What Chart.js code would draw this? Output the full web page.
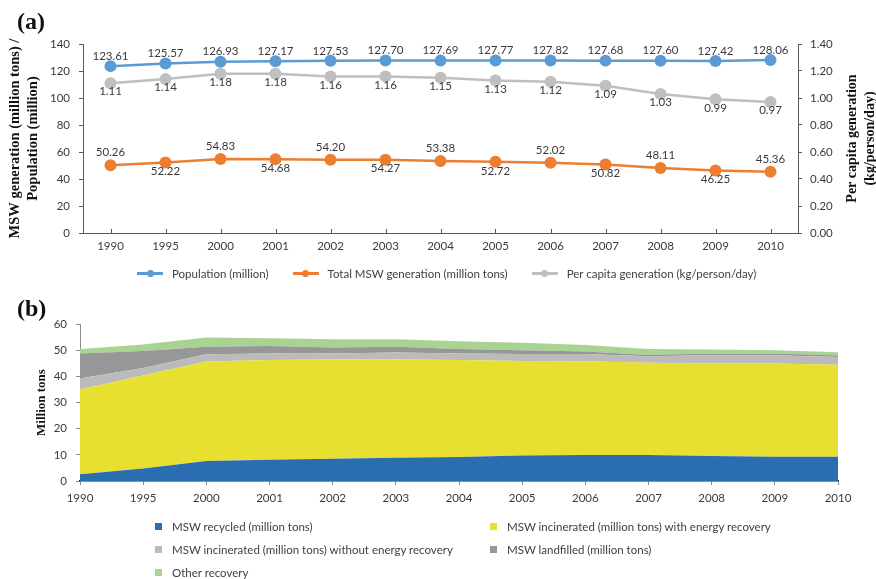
<!DOCTYPE html>
<html>
<head>
<meta charset="utf-8">
<title>Municipal solid waste, 1990–2010</title>
<script src="https://cdn.jsdelivr.net/npm/chart.js@4.4.1/dist/chart.umd.min.js"></script>
<style>
  html, body { margin: 0; padding: 0; background: #fff; }
  #wrap { position: relative; width: 876px; height: 579px; overflow: hidden;
          font-family: Lato, "Liberation Sans", sans-serif; color: #404040; }
  canvas { position: absolute; left: 0; }
  #chartA { top: 0; }
  #chartB { top: 290px; }
  .panel { position: absolute; left: 17px; font: bold 24px "Liberation Serif", "Times New Roman", serif; color: #111; line-height: 1; }
  #legendA { position: absolute; left: 137px; top: 266px; display: flex; gap: 24px; font-size: 11.5px; white-space: nowrap; }
  #legendA .item { display: flex; align-items: center; height: 14px; }
  #legendA .sw { position: relative; width: 26px; height: 14px; margin-right: 9px; }
  #legendA .sw .ln { position: absolute; left: 0; right: 0; top: 6px; height: 2.5px; }
  #legendA .sw .dot { position: absolute; left: 9.5px; top: 3.5px; width: 7px; height: 7px; border-radius: 50%; }
  #legendB { position: absolute; left: 155px; top: 519px; display: grid; grid-template-columns: 335px auto;
             row-gap: 9px; font-size: 11.5px; white-space: nowrap; }
  #legendB .item { display: flex; align-items: center; height: 14px; }
  #legendB .box { width: 7px; height: 7px; margin-right: 10px; }
</style>
</head>
<body>
<div id="wrap">
  <canvas id="chartA" width="876" height="290"></canvas>
  <canvas id="chartB" width="876" height="289"></canvas>
  <div class="panel" style="top:9px">(a)</div>
  <div class="panel" style="top:296px">(b)</div>
  <div id="legendA"></div>
  <div id="legendB"></div>
</div>
<script>
// ---- data -------------------------------------------------------------
const years = ['1990', '1995', '2000', '2001', '2002', '2003', '2004', '2005', '2006', '2007', '2008', '2009', '2010'];

const population = [123.61, 125.57, 126.93, 127.17, 127.53, 127.70, 127.69, 127.77, 127.82, 127.68, 127.60, 127.42, 128.06];
const mswTotal = [50.26, 52.22, 54.83, 54.68, 54.20, 54.27, 53.38, 52.72, 52.02, 50.82, 48.11, 46.25, 45.36];
const perCapita = [1.11, 1.14, 1.18, 1.18, 1.16, 1.16, 1.15, 1.13, 1.12, 1.09, 1.03, 0.99, 0.97];

const mswRecycled = [2.6, 4.8, 7.6, 8.1, 8.5, 8.9, 9.2, 9.7, 9.9, 9.9, 9.6, 9.3, 9.3];
const incineratedWithEnergy = [32.4, 35.5, 38.1, 38.1, 37.9, 37.5, 37.0, 36.2, 35.9, 35.3, 35.3, 35.6, 35.1];
const incineratedWithoutEnergy = [4.2, 2.9, 2.7, 2.5, 2.3, 2.7, 2.5, 2.6, 2.7, 2.5, 3.2, 3.2, 3.0];
const mswLandfilled = [9.5, 6.5, 2.9, 2.9, 2.3, 2.2, 1.7, 1.5, 1.0, 0.5, 0.6, 0.6, 0.6];
const otherRecovery = [1.7, 2.5, 3.5, 3.0, 3.2, 2.9, 3.0, 2.8, 2.5, 2.2, 1.6, 1.3, 1.2];

const leftTicksA = [0, 20, 40, 60, 80, 100, 120, 140];
const rightTicksA = [0, 0.2, 0.4, 0.6, 0.8, 1.0, 1.2, 1.4];
const ticksB = [0, 10, 20, 30, 40, 50, 60];

// ---- shared styling ---------------------------------------------------
Chart.defaults.font.family = 'Lato, "Liberation Sans", sans-serif';
Chart.defaults.color = '#3a3a3a';
const tickFont = { size: 11.5 };
const axisA = '#5a5a5a';
const titleFont = (size) => ({ family: '"Liberation Serif", "Times New Roman", serif', size, weight: 'bold' });

// value labels next to each point of the line chart
const pointValues = {
  id: 'pointValues',
  afterDatasetsDraw(chart) {
    const ctx = chart.ctx;
    ctx.save();
    ctx.font = '11.5px Lato, "Liberation Sans", sans-serif';
    ctx.fillStyle = '#3a3a3a';
    ctx.textAlign = 'center';
    ctx.textBaseline = 'middle';
    chart.data.datasets.forEach((ds, di) => {
      const meta = chart.getDatasetMeta(di);
      meta.data.forEach((pt, i) => {
        let side = ds.labelSide;
        if (side === 'alternate') side = i % 2 === 0 ? 'above' : 'below';
        const dy = side === 'above' ? -ds.labelGapAbove : ds.labelGapBelow;
        ctx.fillText(ds.data[i].toFixed(2), pt.x, pt.y + dy);
      });
    });
    ctx.restore();
  }
};

// short inward tick marks on the category axis of the line chart
const innerTicks = {
  id: 'innerTicks',
  afterDraw(chart) {
    const x = chart.scales.x, ctx = chart.ctx;
    ctx.save();
    ctx.strokeStyle = axisA;
    ctx.lineWidth = 1;
    ctx.beginPath();
    years.forEach((_, i) => {
      const px = Math.round(x.getPixelForValue(i)) + 0.5;
      ctx.moveTo(px, x.top);
      ctx.lineTo(px, x.top - 4);
    });
    ctx.stroke();
    ctx.restore();
  }
};

// right-hand axis title, read bottom-to-top
const rightTitle = {
  id: 'rightTitle',
  afterDraw(chart) {
    const ctx = chart.ctx, area = chart.chartArea;
    ctx.save();
    ctx.translate(852, (area.top + area.bottom) / 2);
    ctx.rotate(-Math.PI / 2);
    ctx.font = 'bold 14px "Liberation Serif", "Times New Roman", serif';
    ctx.fillStyle = '#111';
    ctx.textAlign = 'center';
    ctx.textBaseline = 'middle';
    ctx.fillText('Per capita generation', 0, 0);
    ctx.fillText('(kg/person/day)', 0, 18);
    ctx.restore();
  }
};

// ---- (a) population, total MSW and per-capita generation -------------
const lineStyle = (color) => ({
  borderColor: color, backgroundColor: color, borderWidth: 2.5,
  pointRadius: 6, pointHoverRadius: 6, pointBorderWidth: 0, tension: 0
});

const chartA = new Chart(document.getElementById('chartA'), {
  type: 'line',
  data: {
    labels: years,
    datasets: [
      { label: 'Population (million)', data: population, yAxisID: 'y',
        labelSide: 'above', labelGapAbove: 10, labelGapBelow: 9, ...lineStyle('#5b9bd5') },
      { label: 'Total MSW generation (million tons)', data: mswTotal, yAxisID: 'y',
        labelSide: 'alternate', labelGapAbove: 12.5, labelGapBelow: 9, ...lineStyle('#ed7d31') },
      { label: 'Per capita generation (kg/person/day)', data: perCapita, yAxisID: 'y1',
        labelSide: 'below', labelGapAbove: 10, labelGapBelow: 8.5, ...lineStyle('#bfbfbf') }
    ]
  },
  options: {
    responsive: false, animation: false, devicePixelRatio: 1,
    layout: { padding: { top: 44, left: 0, right: 0, bottom: 0 } },
    plugins: { legend: { display: false }, tooltip: { enabled: false } },
    scales: {
      x: {
        offset: true,
        grid: { display: false, drawTicks: false },
        border: { display: true, color: axisA, width: 1 },
        ticks: { font: tickFont, padding: 6, maxRotation: 0, autoSkip: false },
        afterFit: (s) => { s.height = 57; }
      },
      y: {
        position: 'left', min: 0, max: 140,
        afterBuildTicks: (s) => { s.ticks = leftTicksA.map(v => ({ value: v })); },
        grid: { drawOnChartArea: false, drawTicks: true, tickLength: 4, color: axisA },
        border: { display: true, color: axisA, width: 1 },
        ticks: { font: tickFont, padding: 9 },
        title: { display: true, text: ['MSW generation (million tons) /', 'Population (million)'],
                 font: { ...titleFont(14.5), lineHeight: 1.27 }, color: '#111', padding: { top: 6, bottom: 0 } },
        afterFit: (s) => { s.width = 83; }
      },
      y1: {
        position: 'right', min: 0, max: 1.4,
        afterBuildTicks: (s) => { s.ticks = rightTicksA.map(v => ({ value: v })); },
        grid: { drawOnChartArea: false, drawTicks: true, tickLength: 4, color: axisA },
        border: { display: true, color: axisA, width: 1 },
        ticks: { font: tickFont, padding: 8, callback: (v) => Number(v).toFixed(2) },
        afterFit: (s) => { s.width = 78; }
      }
    }
  },
  plugins: [pointValues, innerTicks, rightTitle]
});

// ---- (b) MSW by treatment route (stacked areas) -----------------------
const areaStyle = (color, fill) => ({
  backgroundColor: color, borderColor: color, borderWidth: 0,
  pointRadius: 0, pointHoverRadius: 0, tension: 0, fill
});

const chartB = new Chart(document.getElementById('chartB'), {
  type: 'line',
  data: {
    labels: years,
    datasets: [
      { label: 'MSW recycled (million tons)', data: mswRecycled, ...areaStyle('#2b6db1', 'origin') },
      { label: 'MSW incinerated (million tons) with energy recovery', data: incineratedWithEnergy, ...areaStyle('#e8e030', '-1') },
      { label: 'MSW incinerated (million tons) without energy recovery', data: incineratedWithoutEnergy, ...areaStyle('#bbbbbb', '-1') },
      { label: 'MSW landfilled (million tons)', data: mswLandfilled, ...areaStyle('#979797', '-1') },
      { label: 'Other recovery', data: otherRecovery, ...areaStyle('#a9d391', '-1') }
    ]
  },
  options: {
    responsive: false, animation: false, devicePixelRatio: 1,
    layout: { padding: { top: 34, left: 0, right: 38, bottom: 0 } },
    plugins: { legend: { display: false }, tooltip: { enabled: false }, filler: { propagate: false } },
    scales: {
      x: {
        offset: false,
        grid: { drawOnChartArea: false, drawTicks: true, tickLength: 4, color: '#8c8c8c' },
        border: { display: true, color: '#262626', width: 1.5 },
        ticks: { font: tickFont, padding: 6, maxRotation: 0, autoSkip: false },
        afterFit: (s) => { s.height = 98; }
      },
      y: {
        stacked: true, min: 0, max: 60,
        afterBuildTicks: (s) => { s.ticks = ticksB.map(v => ({ value: v })); },
        grid: { drawOnChartArea: false, drawTicks: true, tickLength: 4, color: '#8c8c8c' },
        border: { display: true, color: '#8c8c8c', width: 1 },
        ticks: { font: tickFont, padding: 9 },
        title: { display: true, text: 'Million tons', font: { ...titleFont(13), lineHeight: 1.2 },
                 color: '#111', padding: { top: 34, bottom: 0 } },
        afterFit: (s) => { s.width = 80; }
      }
    }
  }
});

// ---- legends ------------------------------------------------------------
const legendA = document.getElementById('legendA');
chartA.data.datasets.forEach(ds => {
  const item = document.createElement('div'); item.className = 'item';
  const sw = document.createElement('span'); sw.className = 'sw';
  const ln = document.createElement('span'); ln.className = 'ln'; ln.style.background = ds.borderColor;
  const dot = document.createElement('span'); dot.className = 'dot'; dot.style.background = ds.borderColor;
  sw.append(ln, dot);
  const tx = document.createElement('span'); tx.textContent = ds.label;
  item.append(sw, tx); legendA.append(item);
});

const legendB = document.getElementById('legendB');
chartB.data.datasets.forEach(ds => {
  const item = document.createElement('div'); item.className = 'item';
  const box = document.createElement('span'); box.className = 'box'; box.style.background = ds.backgroundColor;
  const tx = document.createElement('span'); tx.textContent = ds.label;
  item.append(box, tx); legendB.append(item);
});
</script>
</body>
</html>
